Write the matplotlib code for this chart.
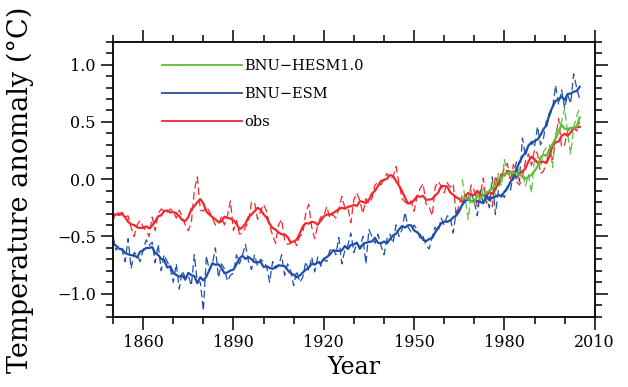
import numpy as np
import pandas as pd
import matplotlib
matplotlib.use("Agg")
import matplotlib.pyplot as plt
from matplotlib.lines import Line2D
from matplotlib.ticker import MultipleLocator

plt.rcParams['font.family'] = ['DejaVu Serif']

years = np.arange(1850, 2006)
hesm_years = np.arange(1966, 2006)

# annual anomalies
obs = [-0.36, -0.28, -0.30, -0.29, -0.33, -0.32, -0.42, -0.50, -0.40, -0.36,
       -0.42, -0.45, -0.50, -0.33, -0.45, -0.30, -0.26, -0.28, -0.29, -0.26,
       -0.28, -0.34, -0.27, -0.33, -0.40, -0.45, -0.38, -0.10, 0.02, -0.27,
       -0.28, -0.24, -0.28, -0.34, -0.40, -0.40, -0.33, -0.40, -0.32, -0.19,
       -0.45, -0.36, -0.48, -0.47, -0.42, -0.37, -0.20, -0.20, -0.35, -0.28,
       -0.22, -0.28, -0.40, -0.49, -0.56, -0.40, -0.35, -0.53, -0.57, -0.56,
       -0.52, -0.58, -0.50, -0.48, -0.30, -0.22, -0.42, -0.52, -0.40, -0.33,
       -0.32, -0.24, -0.34, -0.31, -0.34, -0.26, -0.15, -0.25, -0.25, -0.38,
       -0.18, -0.12, -0.19, -0.30, -0.17, -0.21, -0.17, -0.05, -0.03, -0.05,
       0.00, 0.05, 0.00, 0.02, 0.11, -0.04, -0.17, -0.20, -0.22, -0.19,
       -0.28, -0.15, -0.08, -0.04, -0.22, -0.24, -0.32, -0.07, -0.02, -0.06,
       -0.12, -0.03, -0.07, -0.04, -0.32, -0.22, -0.14, -0.14, -0.17, -0.05,
       -0.10, -0.24, -0.13, 0.01, -0.21, -0.15, -0.24, 0.03, -0.07, 0.01,
       0.10, 0.14, -0.02, 0.13, -0.02, -0.05, 0.02, 0.16, 0.22, 0.12,
       0.26, 0.22, 0.05, 0.07, 0.15, 0.27, 0.17, 0.36, 0.53, 0.28,
       0.30, 0.42, 0.45, 0.45, 0.42, 0.50]

esm = [-0.50, -0.62, -0.58, -0.62, -0.72, -0.52, -0.78, -0.64, -0.66, -0.72,
       -0.62, -0.53, -0.58, -0.55, -0.73, -0.57, -0.80, -0.66, -0.72, -0.78,
       -0.90, -0.74, -0.96, -0.80, -0.86, -0.84, -0.93, -0.66, -0.90, -0.90,
       -1.15, -0.67, -0.80, -0.74, -0.60, -0.86, -0.74, -0.78, -0.89, -0.84,
       -0.82, -0.66, -0.74, -0.66, -0.57, -0.72, -0.79, -0.66, -0.76, -0.70,
       -0.72, -0.76, -0.90, -0.72, -0.78, -0.76, -0.66, -0.84, -0.74, -0.80,
       -0.93, -0.80, -0.90, -0.86, -0.72, -0.80, -0.68, -0.81, -0.68, -0.76,
       -0.70, -0.72, -0.62, -0.60, -0.66, -0.51, -0.74, -0.62, -0.58, -0.47,
       -0.64, -0.56, -0.60, -0.50, -0.74, -0.44, -0.50, -0.56, -0.48, -0.58,
       -0.66, -0.52, -0.48, -0.56, -0.40, -0.50, -0.44, -0.29, -0.42, -0.46,
       -0.40, -0.44, -0.52, -0.50, -0.58, -0.61, -0.50, -0.42, -0.46, -0.34,
       -0.40, -0.32, -0.33, -0.47, -0.28, -0.27, -0.24, -0.14, -0.18, -0.12,
       -0.20, -0.32, -0.10, -0.22, -0.16, -0.25, 0.02, -0.31, -0.10, -0.13,
       -0.16, -0.06, -0.10, 0.05, 0.15, -0.02, 0.36, 0.20, 0.30, 0.33,
       0.28, 0.46, 0.30, 0.36, 0.52, 0.55, 0.62, 0.82, 0.65, 0.78,
       0.62, 0.74, 0.66, 0.92, 0.80, 0.70]

hesm = [0.00, -0.18, -0.35, -0.10, -0.22, -0.12, -0.20, -0.08, -0.18, -0.10,
        -0.02, -0.14, 0.05, -0.06, 0.17, 0.05, 0.02, 0.08, 0.00, 0.10,
        0.06, -0.06, 0.04, -0.12, 0.18, 0.15, 0.10, 0.24, 0.28, 0.30,
        0.10, 0.40, 0.46, 0.50, 0.62, 0.40, 0.22, 0.45, 0.55, 0.62]

RED = '#f0282d'
BLUE = '#1f4fa8'
GREEN = '#5cbf3a'


def smooth(v):
    return pd.Series(v).rolling(5, center=True, min_periods=1).mean().values


fig = plt.figure(figsize=(6.28, 3.87), dpi=100)
ax = fig.add_axes([0.180, 0.182, 0.767, 0.710])

ax.plot(years, obs, color=RED, lw=0.9, dashes=(6, 3))
ax.plot(years, esm, color=BLUE, lw=0.9, dashes=(6, 3))
ax.plot(hesm_years, hesm, color=GREEN, lw=0.9, dashes=(6, 3))
ax.plot(years, smooth(obs), color=RED, lw=1.6)
ax.plot(years, smooth(esm), color=BLUE, lw=1.6)
ax.plot(hesm_years, smooth(hesm), color=GREEN, lw=1.6)

ax.set_xlim(1850, 2010)
ax.set_ylim(-1.2, 1.2)
ax.set_xticks(np.arange(1860, 2011, 30))
ax.set_yticks([-1.0, -0.5, 0.0, 0.5, 1.0])
ax.set_yticklabels(['\u22121.0', '\u22120.5', '0.0', '0.5', '1.0'])
ax.xaxis.set_minor_locator(MultipleLocator(10))
ax.yaxis.set_minor_locator(MultipleLocator(0.1))
ax.tick_params(which='both', direction='out', top=True, right=True,
               labeltop=False, labelright=False, labelsize=11.5, width=1.1)
ax.tick_params(which='major', length=9)
ax.tick_params(which='minor', length=5)
for s in ax.spines.values():
    s.set_linewidth(1.3)

ax.set_xlabel('Year', fontsize=17, labelpad=4)
ax.set_ylabel('Temperature anomaly (\u00b0C)', fontsize=19.5, labelpad=2)
ax.yaxis.set_label_coords(-0.165, 0.46)

handles = [Line2D([], [], color=GREEN, lw=1.3),
           Line2D([], [], color=BLUE, lw=1.3),
           Line2D([], [], color=RED, lw=1.3)]
ax.legend(handles, ['BNU\u2212HESM1.0', 'BNU\u2212ESM', 'obs'],
          loc='upper left', bbox_to_anchor=(0.075, 0.985), frameon=False,
          handlelength=5.5, handletextpad=0.1, labelspacing=0.95,
          fontsize=10.5)

fig.savefig('out.png', dpi=100)
